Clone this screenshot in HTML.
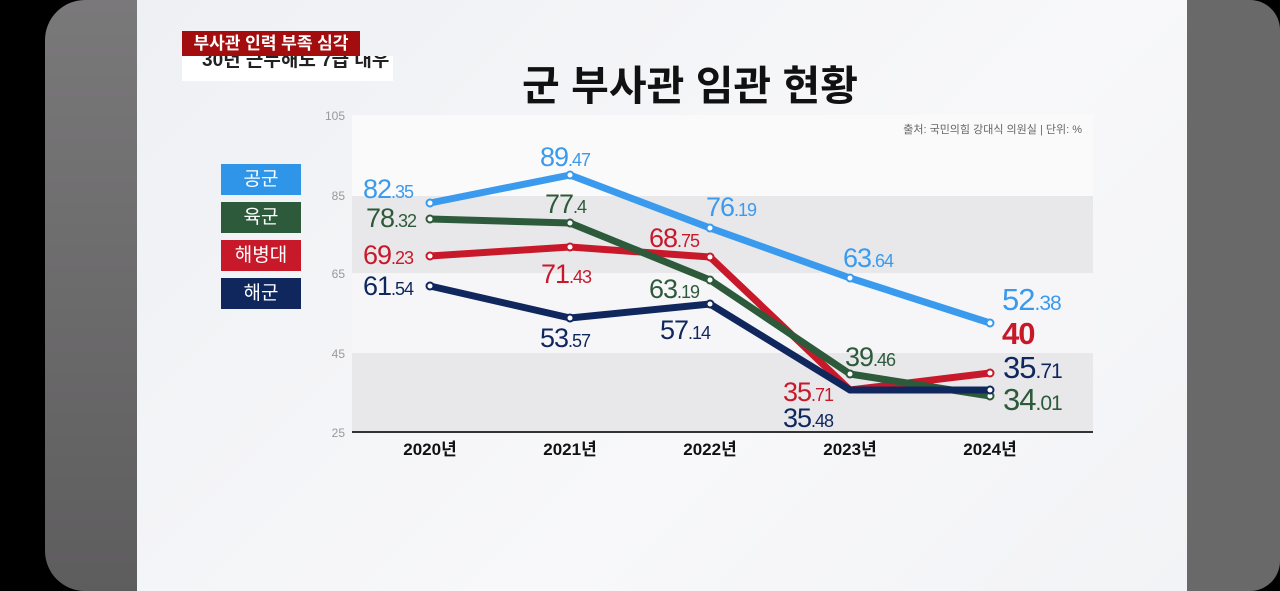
<!DOCTYPE html>
<html><head><meta charset="utf-8"><style>
body{margin:0;width:1280px;height:591px;overflow:hidden;background:#000;font-family:"Liberation Sans","Noto Sans CJK KR",sans-serif;position:relative}
.l{position:absolute;left:45px;top:0;width:92px;height:591px;background:linear-gradient(#7a797a,#5e5d5e);border-radius:40px 0 0 40px}
.r{position:absolute;left:1187px;top:0;width:93px;height:591px;background:#6a696a;border-radius:0 30px 30px 0}
.m{position:absolute;left:137px;top:0;width:1050px;height:591px;background:linear-gradient(135deg,#eef0f4,#f8f8fa 60%,#f2f3f6)}
.cap1{position:absolute;left:182px;top:31px;width:178px;height:25px;background:#a30d0d;color:#fff;font-size:17px;line-height:25px;text-align:center;font-weight:bold}
.cap2{position:absolute;left:182px;top:56px;width:211px;height:25px;background:#fff;color:#222;font-size:19px;line-height:10px;overflow:hidden;padding-left:20px;box-sizing:border-box;font-weight:bold}
.t{position:absolute;left:440px;top:52px;width:500px;text-align:center;font-size:41px;font-weight:bold;color:#111}
.lg{position:absolute;left:221px;width:80px;height:31px;color:#fff;font-size:19px;line-height:31px;text-align:center}
</style></head><body>
<div class="l"></div><div class="r"></div><div class="m"></div>
<div class="cap2">30년 근무해도 7급 대우</div>
<div class="cap1">부사관 인력 부족 심각</div>
<div class="t">군 부사관 임관 현황</div>
<div class="lg" style="top:164px;background:#2f95e8">공군</div>
<div class="lg" style="top:202px;background:#2d5a3a">육군</div>
<div class="lg" style="top:240px;background:#c8192b">해병대</div>
<div class="lg" style="top:278px;background:#10275e">해군</div>
<svg width="1280" height="591" style="position:absolute;left:0;top:0" font-family="Liberation Sans, Noto Sans CJK KR, sans-serif">
<rect x="352" y="115" width="741" height="81" fill="#fafafb"/>
<rect x="352" y="196" width="741" height="77" fill="#e8e8ea"/>
<rect x="352" y="273" width="741" height="80" fill="#f6f6f8"/>
<rect x="352" y="353" width="741" height="79" fill="#e8e8ea"/>
<line x1="352" y1="432" x2="1093" y2="432" stroke="#333" stroke-width="2"/>
<g font-size="12" fill="#999" text-anchor="end"><text x="345" y="120">105</text><text x="345" y="200">85</text><text x="345" y="278">65</text><text x="345" y="358">45</text><text x="345" y="437">25</text></g>
<text x="1082" y="133" font-size="11" fill="#666" text-anchor="end">출처: 국민의힘 강대식 의원실  |  단위: %</text>
<g font-size="17" font-weight="bold" fill="#111" text-anchor="middle"><text x="430" y="455">2020년</text><text x="570" y="455">2021년</text><text x="710" y="455">2022년</text><text x="850" y="455">2023년</text><text x="990" y="455">2024년</text></g>
<g fill="none" stroke-width="7" stroke-linejoin="round">
<polyline stroke="#3a9aee" points="430,203 570,175 710,228 850,278 990,323"/>
<polyline stroke="#c8192b" points="430,256 570,247 710,257 850,390 990,373"/>
<polyline stroke="#2d5a3a" points="430,219 570,223 710,280 850,374 990,396"/>
<polyline stroke="#10275e" points="430,286 570,318 710,304 850,390 990,390"/>
</g>
<g fill="#fff" stroke-width="2">
<g stroke="#3a9aee"><circle cx="430" cy="203" r="3.5"/><circle cx="570" cy="175" r="3.5"/><circle cx="710" cy="228" r="3.5"/><circle cx="850" cy="278" r="3.5"/><circle cx="990" cy="323" r="3.5"/></g>
<g stroke="#c8192b"><circle cx="430" cy="256" r="3.5"/><circle cx="570" cy="247" r="3.5"/><circle cx="710" cy="257" r="3.5"/><circle cx="990" cy="373" r="3.5"/></g>
<g stroke="#2d5a3a"><circle cx="430" cy="219" r="3.5"/><circle cx="570" cy="223" r="3.5"/><circle cx="710" cy="280" r="3.5"/><circle cx="850" cy="374" r="3.5"/><circle cx="990" cy="396" r="3.5"/></g>
<g stroke="#10275e"><circle cx="430" cy="286" r="3.5"/><circle cx="570" cy="318" r="3.5"/><circle cx="710" cy="304" r="3.5"/><circle cx="990" cy="390" r="3.5"/></g>
</g>
<g font-size="27" letter-spacing="-1">
<text x="363" y="198" fill="#3a9aee">82<tspan font-size="18">.35</tspan></text>
<text x="540" y="166" fill="#3a9aee">89<tspan font-size="18">.47</tspan></text>
<text x="706" y="216" fill="#3a9aee">76<tspan font-size="18">.19</tspan></text>
<text x="843" y="267" fill="#3a9aee">63<tspan font-size="18">.64</tspan></text>
<text x="1002" y="310" fill="#3a9aee" font-size="31">52<tspan font-size="21">.38</tspan></text>
<text x="366" y="227" fill="#2d5a3a">78<tspan font-size="18">.32</tspan></text>
<text x="545" y="213" fill="#2d5a3a">77<tspan font-size="18">.4</tspan></text>
<text x="649" y="298" fill="#2d5a3a">63<tspan font-size="18">.19</tspan></text>
<text x="845" y="366" fill="#2d5a3a">39<tspan font-size="18">.46</tspan></text>
<text x="1003" y="410" fill="#2d5a3a" font-size="31">34<tspan font-size="21">.01</tspan></text>
<text x="363" y="264" fill="#c8192b">69<tspan font-size="18">.23</tspan></text>
<text x="541" y="283" fill="#c8192b">71<tspan font-size="18">.43</tspan></text>
<text x="649" y="247" fill="#c8192b">68<tspan font-size="18">.75</tspan></text>
<text x="783" y="401" fill="#c8192b">35<tspan font-size="18">.71</tspan></text>
<text x="1002" y="344" fill="#c8192b" font-size="31" font-weight="bold">40</text>
<text x="363" y="295" fill="#10275e">61<tspan font-size="18">.54</tspan></text>
<text x="540" y="347" fill="#10275e">53<tspan font-size="18">.57</tspan></text>
<text x="660" y="339" fill="#10275e">57<tspan font-size="18">.14</tspan></text>
<text x="783" y="427" fill="#10275e">35<tspan font-size="18">.48</tspan></text>
<text x="1003" y="378" fill="#10275e" font-size="31">35<tspan font-size="21">.71</tspan></text>
</g>
</svg>
</body></html>
